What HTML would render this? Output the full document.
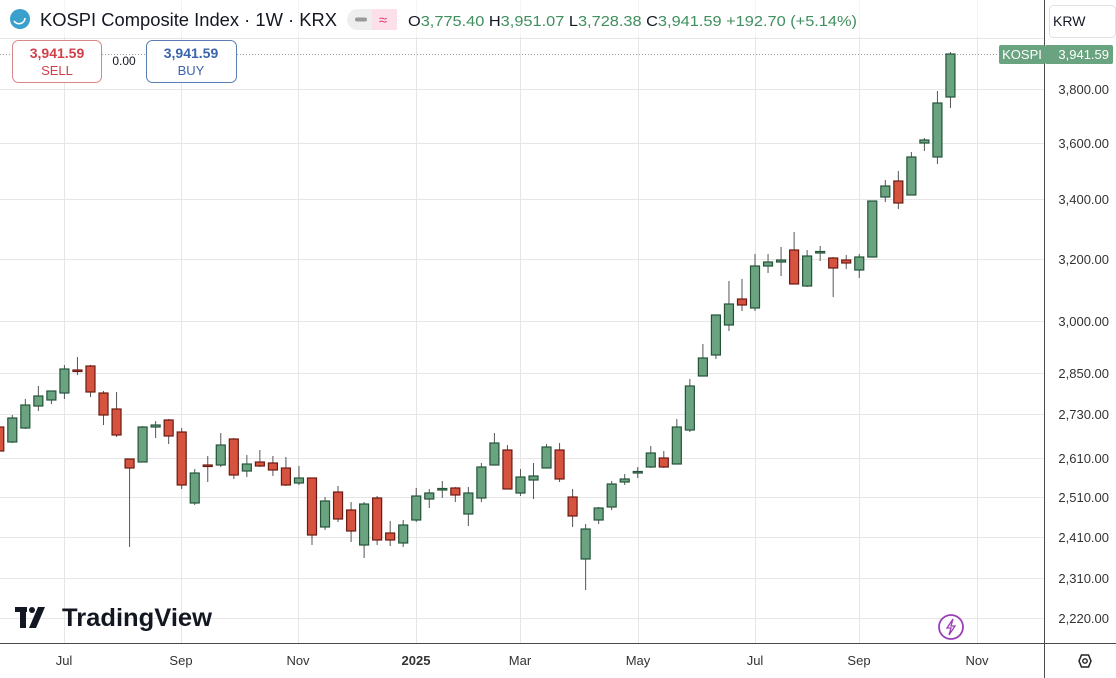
<!DOCTYPE html>
<html><head><meta charset="utf-8">
<style>
html,body{margin:0;padding:0;background:#fff;}
body{width:1116px;height:678px;overflow:hidden;position:relative;font-family:"Liberation Sans","DejaVu Sans",sans-serif;}
svg{position:absolute;left:0;top:0;}
</style></head>
<body>
<svg id="c" width="1116" height="678" viewBox="0 0 1116 678" xmlns="http://www.w3.org/2000/svg" font-family="Liberation Sans, DejaVu Sans, sans-serif">
<g id="grid" stroke="#e6e6e6" stroke-width="1"></g>
<line x1="0" y1="54.5" x2="1044" y2="54.5" stroke="#9a9a9a" stroke-dasharray="1,2"/>
<g id="candles"></g>
<line x1="1044.5" y1="0" x2="1044.5" y2="678" stroke="#4a4a4a"/>
<line x1="0" y1="643.5" x2="1116" y2="643.5" stroke="#4a4a4a"/>
<g font-size="13" fill="#333" text-anchor="end">
<text x="1109" y="94">3,800.00</text>
<text x="1109" y="148">3,600.00</text>
<text x="1109" y="204">3,400.00</text>
<text x="1109" y="264">3,200.00</text>
<text x="1109" y="326">3,000.00</text>
<text x="1109" y="378">2,850.00</text>
<text x="1109" y="419">2,730.00</text>
<text x="1109" y="463">2,610.00</text>
<text x="1109" y="502">2,510.00</text>
<text x="1109" y="542">2,410.00</text>
<text x="1109" y="583">2,310.00</text>
<text x="1109" y="623">2,220.00</text>
</g>
<g font-size="13" fill="#333" text-anchor="middle">
<text x="64" y="665">Jul</text>
<text x="181" y="665">Sep</text>
<text x="298" y="665">Nov</text>
<text x="416" y="665" font-weight="bold">2025</text>
<text x="520" y="665">Mar</text>
<text x="638" y="665">May</text>
<text x="755" y="665">Jul</text>
<text x="859" y="665">Sep</text>
<text x="977" y="665">Nov</text>
</g>
<polygon points="1079,661 1081.5,655 1088.5,655 1091,661 1088.5,667 1081.5,667" fill="none" stroke="#222" stroke-width="1.5"/>
<circle cx="1085" cy="661" r="2.2" fill="none" stroke="#222" stroke-width="1.4"/>
<rect x="999" y="45" width="46" height="19" rx="2" fill="#6aa37f"/>
<text x="1022" y="59" font-size="13" fill="#fff" text-anchor="middle">KOSPI</text>
<rect x="1045" y="45" width="68" height="19" rx="2" fill="#6aa37f"/>
<text x="1109" y="59" font-size="13" fill="#fff" text-anchor="end">3,941.59</text>
<rect x="1049.5" y="5.5" width="66" height="32" rx="4" fill="#fff" stroke="#e0e0e0"/>
<text x="1053" y="26" font-size="14" fill="#131722">KRW</text>
<rect x="0" y="0" width="1040" height="37" fill="#fff" opacity="0.6"/>
<circle cx="20" cy="19" r="10" fill="#3aa0cc"/>
<path d="M14,21 a6,6 0 0 0 11,-3" stroke="#fff" stroke-width="1.6" fill="none"/>
<text x="40" y="26" font-size="18" fill="#131722" textLength="297" lengthAdjust="spacingAndGlyphs">KOSPI Composite Index · 1W · KRX</text>
<rect x="347" y="9" width="50" height="21" rx="10.5" fill="#eeeeee"/>
<rect x="372" y="9" width="25" height="21" rx="0" fill="#fbe0ea"/>
<rect x="385" y="9" width="12" height="21" rx="10" fill="#fbe0ea"/>
<rect x="355" y="17.5" width="12" height="4" rx="2" fill="#999"/>
<text x="383" y="25" font-size="15" fill="#e0407a" text-anchor="middle">≈</text>
<text x="408" y="26" font-size="15" fill="#131722" textLength="449" lengthAdjust="spacingAndGlyphs">O<tspan fill="#3f8f5f">3,775.40</tspan> H<tspan fill="#3f8f5f">3,951.07</tspan> L<tspan fill="#3f8f5f">3,728.38</tspan> C<tspan fill="#3f8f5f">3,941.59</tspan> <tspan fill="#3f8f5f">+192.70 (+5.14%)</tspan></text>
<rect x="12.5" y="40.5" width="89" height="42" rx="6" fill="#fff" stroke="#d9868a"/>
<text x="57" y="58" font-size="14" font-weight="bold" fill="#d2404a" text-anchor="middle">3,941.59</text>
<text x="57" y="75" font-size="13" fill="#d2404a" text-anchor="middle">SELL</text>
<text x="124" y="65" font-size="12" fill="#131722" text-anchor="middle">0.00</text>
<rect x="146.5" y="40.5" width="90" height="42" rx="6" fill="#fff" stroke="#5a7db5"/>
<text x="191" y="58" font-size="14" font-weight="bold" fill="#3a63ad" text-anchor="middle">3,941.59</text>
<text x="191" y="75" font-size="13" fill="#3a63ad" text-anchor="middle">BUY</text>
<g fill="#131722">
<rect x="15" y="607" width="12" height="5"/><rect x="20" y="607" width="6" height="21"/>
<circle cx="32" cy="610" r="3"/>
<polygon points="38,607 45,607 36,628 29,628"/>
</g>
<text x="62" y="626" font-size="25" font-weight="bold" fill="#131722" textLength="150" lengthAdjust="spacingAndGlyphs">TradingView</text>
<circle cx="951" cy="627" r="12" fill="#fff" stroke="#9b3fb8" stroke-width="1.8"/>
<path d="M953,619 L947,628 L951,628 L949,635 L955,626 L951,626 Z" fill="none" stroke="#9b3fb8" stroke-width="1.3"/>
</svg>
<script>
(function(){
var NS="http://www.w3.org/2000/svg";
var g=document.getElementById("grid");
function ln(x1,y1,x2,y2){var l=document.createElementNS(NS,"line");l.setAttribute("x1",x1);l.setAttribute("y1",y1);l.setAttribute("x2",x2);l.setAttribute("y2",y2);g.appendChild(l);}
[38,89,143,199,259,321,373,414,458,497,537,578,618].forEach(function(y){ln(0,y+.5,1044,y+.5);});
[64,181,298,416,520,638,755,859,977].forEach(function(x){ln(x+.5,0,x+.5,643);});
var d=[
[-1,427,451,425,453],
[0,442,418,415,443],[1,428,405,399,429],[2,406,396,386,411],[3,400,391,391,404],[4,393,369,365,399],
[5,370,371,357,375],[6,366,392,365,397],[7,393,415,391,425],[8,409,435,392,437],[9,459,468,459,547],
[10,462,427,426,462],[11,427,425,421,438],[12,420,436,419,444],[13,432,485,428,489],[14,503,473,469,505],
[15,465,466,456,482],[16,465,445,433,467],[17,439,475,438,479],[18,471,464,455,477],[19,462,466,450,467],
[20,463,470,456,476],[21,468,485,457,486],[22,483,478,466,485],[23,478,535,478,545],[24,527,501,497,530],
[25,492,519,486,522],[26,510,531,502,542],[27,545,504,502,558],[28,498,540,496,545],[29,533,540,521,546],
[30,543,525,520,547],[31,520,496,488,522],[32,499,493,489,508],[33,489.5,488.5,481,498],[34,488,495,487,502],
[35,514,493,487,526],[36,498,467,463,502],[37,465,443,433,465],[38,450,489,445,489],[39,493,477,469,496],
[40,480,476,463,499],[41,468,447,444,468],[42,450,479,443,482],[43,497,516,489,527],[44,559,529,524,590],
[45,520,508,507,524],[46,507,484,481,510],[47,482,479,474,485],[48,472.5,471.5,467,478],[49,467,453,446,468],
[50,458,467,451,468],[51,464,427,419,464],[52,430,386,379,432],[53,376,358,344,376],[54,355,315,315,359],
[55,325,304,281,331],[56,299,305,279,311],[57,308,266,254,311],[58,266,262,254,273],[59,262,260,247,276],
[60,250,284,232,284],[61,286,256,250,287],[62,252.5,251.5,246,261],[63,258,268,257,297],[64,260,263,255,269],
[65,270,257,254,278],[66,257,201,201,257],[67,197,186,180,202],[68,181,203,171,209],[69,195,157,152,195],
[70,143,140,138,151],[71,157,103,91,164],[72,97,54,52,108]
];
var cg=document.getElementById("candles");
d.forEach(function(c){
  var x=12.3+13.03*c[0];var o=c[1],cl=c[2],h=c[3],l=c[4];
  var up=cl<=o; var fill=up?"#6aa37f":"#d6533f"; var st=up?"#24533a":"#6b1a12";
  var w=document.createElementNS(NS,"line");
  w.setAttribute("x1",x);w.setAttribute("x2",x);w.setAttribute("y1",h);w.setAttribute("y2",l);
  w.setAttribute("stroke","#555");w.setAttribute("stroke-width","1");cg.appendChild(w);
  var top=Math.min(o,cl),bh=Math.max(Math.abs(o-cl),1.5);
  var r=document.createElementNS(NS,"rect");
  r.setAttribute("x",x-4.5);r.setAttribute("y",top);r.setAttribute("width",9);r.setAttribute("height",bh);
  r.setAttribute("fill",fill);r.setAttribute("stroke",st);r.setAttribute("stroke-width","1.2");cg.appendChild(r);
});
})();
</script>
</body></html>
